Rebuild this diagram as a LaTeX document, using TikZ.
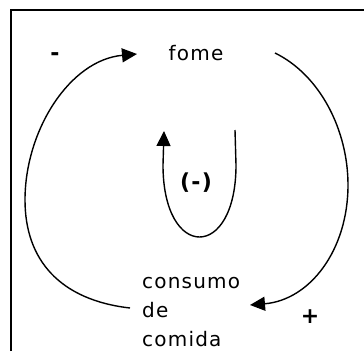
\documentclass[tikz,border=0pt]{standalone}
\usepackage{fontspec}
\newfontfamily\diagfont[LetterSpace=6]{DejaVu Sans}
\usetikzlibrary{arrows.meta}

\begin{document}
\begin{tikzpicture}[
    x=1pt, y=-1pt,
    word/.style={font=\diagfont\fontsize{20}{29}\selectfont, inner sep=2pt},
    sign/.style={font=\diagfont\bfseries\fontsize{22}{24}\selectfont, inner sep=1pt},
    link/.style={draw, line width=1.4pt, -{Triangle[length=15pt,width=14pt]}}
]
    \useasboundingbox (0,0) rectangle (364,351);

    % Frame
    \draw[line width=2pt] (11,351) -- (11,10) -- (364,10);

    % Variables
    \node[word] (fome) at (196,53) {fome};
    \node[word, align=left, anchor=west] (consumo) at (140,312) {consumo\\de\\comida};

    % Signs
    \node[sign] (minus) at (55,57) {-};
    \node[sign] (plus) at (310,317) {+};
    \node[sign] (inner) at (196,183) {(-)};

    % Inner loop ends
    \coordinate (innerA) at (235,130);
    \coordinate (innerB) at (164,131);

    % Links
    \draw[link] ([xshift=-10pt,yshift=4pt]consumo.west) .. controls (60,300) and (25,260) .. (25,200)
        .. controls (25,130) and (70,60) .. ([xshift=-59pt,yshift=-1pt]fome.center);
    \draw[link] ([xshift=79pt]fome.center) .. controls (320,75) and (348,130) .. (348,185)
        .. controls (348,250) and (310,300) .. ([xshift=110pt,yshift=7pt]consumo.west);
    \draw[link] (innerA) -- (236,165) .. controls (236,261) and (163,261) .. (163,165) -- (innerB);

\end{tikzpicture}
\end{document}
